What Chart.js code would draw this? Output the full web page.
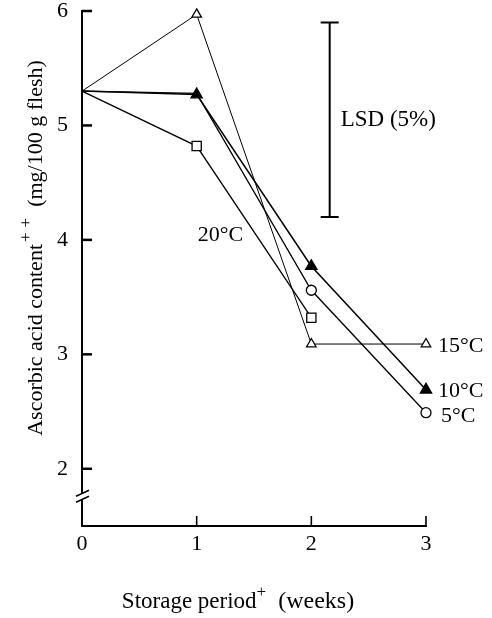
<!DOCTYPE html>
<html>
<head>
<meta charset="utf-8">
<script src="https://cdn.jsdelivr.net/npm/chart.js@4"></script>
<style>
  html, body { margin: 0; padding: 0; background: #fff; }
</style>
</head>
<body>
<canvas id="c" width="492" height="618"></canvas>
<script>
// data
const weeks = [0, 1, 2, 3];
const c10 = [5.3, 5.27, 3.77, 2.69];
const c5 = [5.3, 5.28, 3.56, 2.49];
const c15 = [5.3, 5.97, 3.09, 3.09];
const c20 = [5.3, 4.82, 3.32];
const xTicks = [0, 1, 2, 3];
const yTicks = [2, 3, 4, 5, 6];
const lsdWeek = 2.16, lsdTop = 5.9, lsdBottom = 4.2;

const FONT = '"Liberation Serif", "Times New Roman", serif';

const pts = vals => vals.map((v, i) => ({ x: weeks[i], y: v }));

function series(label, vals, style, filled, radii, lw) {
  return {
    label,
    data: pts(vals),
    borderColor: '#000',
    borderWidth: lw,
    backgroundColor: filled ? '#000' : '#fff',
    pointStyle: style,
    pointRadius: radii,
    pointHoverRadius: radii,
    pointBorderColor: '#000',
    pointBackgroundColor: filled ? '#000' : '#fff',
    pointBorderWidth: 1.3,
    tension: 0,
    fill: false,
    clip: false
  };
}

const decor = {
  id: 'decor',
  afterDraw(chart) {
    const { ctx, chartArea: a, scales: { x, y } } = chart;
    const px = v => x.getPixelForValue(v);
    const py = v => y.getPixelForValue(v);
    ctx.save();
    ctx.strokeStyle = '#000';
    ctx.fillStyle = '#000';

    // inward ticks
    ctx.lineWidth = 2.5;
    yTicks.forEach(v => {
      ctx.beginPath(); ctx.moveTo(a.left, py(v)); ctx.lineTo(a.left + 10, py(v)); ctx.stroke();
    });
    ctx.lineWidth = 1.6;
    xTicks.slice(1).forEach(v => {
      ctx.beginPath(); ctx.moveTo(px(v), a.bottom); ctx.lineTo(px(v), a.bottom - 10); ctx.stroke();
    });

    // axis break
    const yb = py(1.76);
    ctx.fillStyle = '#fff';
    ctx.fillRect(a.left - 2, yb - 3, 4, 6);
    ctx.lineWidth = 1.5;
    [-3, 3].forEach(d => {
      ctx.beginPath(); ctx.moveTo(a.left - 6, yb + d + 3); ctx.lineTo(a.left + 7, yb + d - 3); ctx.stroke();
    });

    // LSD bar
    ctx.lineWidth = 2;
    const lx = px(lsdWeek), t = py(lsdTop), b = py(lsdBottom);
    ctx.beginPath();
    ctx.moveTo(lx, t); ctx.lineTo(lx, b);
    ctx.moveTo(lx - 9, t); ctx.lineTo(lx + 9, t);
    ctx.moveTo(lx - 9, b); ctx.lineTo(lx + 9, b);
    ctx.stroke();

    // labels
    ctx.fillStyle = '#000';
    ctx.textBaseline = 'middle';
    ctx.textAlign = 'left';
    ctx.font = '23px ' + FONT;
    ctx.fillText('LSD (5%)', lx + 11, (t + b) / 2);
    ctx.font = '22px ' + FONT;
    ctx.fillText('20°C', px(1) + 1, py(4.04));
    ctx.fillText('15°C', px(3) + 12, py(c15[3]) + 2);
    ctx.fillText('10°C', px(3) + 12, py(c10[3]) + 1);
    ctx.fillText('5°C', px(3) + 15, py(c5[3]) + 4);

    // axis titles with superscripts
    function titled(parts, cx, cy, rot) {
      ctx.save();
      ctx.translate(cx, cy);
      ctx.rotate(rot);
      ctx.textBaseline = 'alphabetic';
      let total = 0;
      parts.forEach(p => { ctx.font = p.size + 'px ' + FONT; total += ctx.measureText(p.text).width + (p.gap || 0); });
      let xx = -total / 2;
      parts.forEach(p => {
        ctx.font = p.size + 'px ' + FONT;
        ctx.fillText(p.text, xx, -(p.rise || 0));
        xx += ctx.measureText(p.text).width + (p.gap || 0);
      });
      ctx.restore();
    }
    titled([
      { text: 'Storage period', size: 23 },
      { text: '+', size: 17, rise: 11, gap: 12 },
      { text: '(weeks)', size: 24 }
    ], 238, 608, 0);
    titled([
      { text: 'Ascorbic acid content', size: 22, gap: 2 },
      { text: '+', size: 17, rise: 11, gap: 5 },
      { text: '+', size: 17, rise: 11 },
      { text: '  (mg/100 g flesh)', size: 22 }
    ], 42, 248, -Math.PI / 2);

    ctx.restore();
  }
};

new Chart(document.getElementById('c'), {
  type: 'line',
  data: {
    datasets: [
      series('10°C', c10, 'triangle', true, [0, 6.5, 6.5, 6.5], 1.5),
      series('5°C', c5, 'circle', false, [0, 0, 5, 5], 1.3),
      series('15°C', c15, 'triangle', false, [0, 5.5, 5.5, 5.5], 1),
      series('20°C', c20, 'rect', false, [0, 6.5, 6.5], 1.3)
    ]
  },
  options: {
    responsive: false,
    animation: false,
    events: [],
    layout: { padding: { top: 11, right: 66, bottom: 0, left: 0 } },
    plugins: { legend: { display: false }, tooltip: { enabled: false } },
    scales: {
      x: {
        type: 'linear',
        min: 0, max: 3,
        afterBuildTicks: s => { s.ticks = xTicks.map(v => ({ value: v })); },
        ticks: { color: '#000', font: { family: FONT, size: 22 }, padding: 5, maxRotation: 0 },
        grid: { drawOnChartArea: false, drawTicks: false },
        border: { color: '#000', width: 2 },
        afterFit: s => { s.height = 92; s.paddingLeft = 0; s.paddingRight = 0; }
      },
      y: {
        type: 'linear',
        min: 1.5, max: 6,
        afterBuildTicks: s => { s.ticks = yTicks.map(v => ({ value: v })); },
        ticks: { color: '#000', font: { family: FONT, size: 22 }, padding: 14 },
        grid: { drawOnChartArea: false, drawTicks: false },
        border: { color: '#000', width: 2 },
        afterFit: s => { s.width = 82; s.paddingTop = 0; s.paddingBottom = 0; }
      }
    }
  },
  plugins: [decor]
});
</script>
</body>
</html>
